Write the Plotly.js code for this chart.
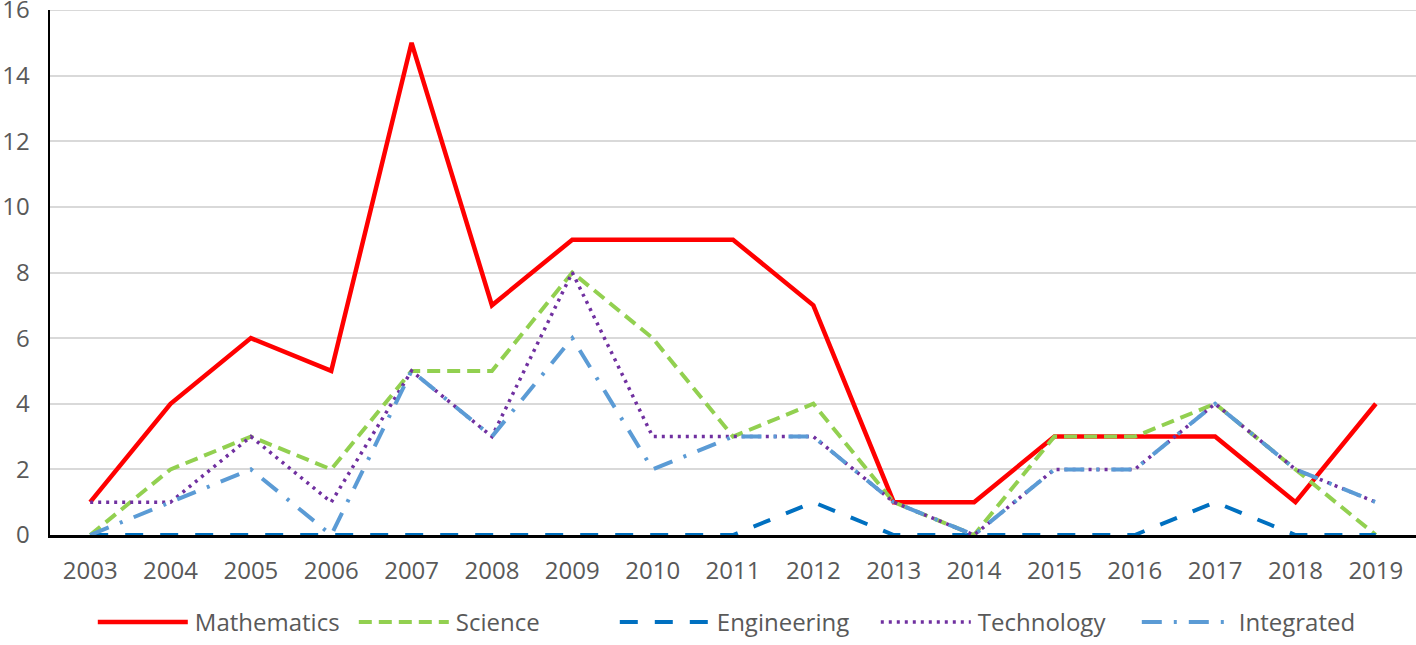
<!DOCTYPE html>
<html>
<head>
<meta charset="utf-8">
<script src="https://cdn.plot.ly/plotly-3.0.1.min.js"></script>
<style>html,body{margin:0;padding:0;background:#fff;}#chart{width:1416px;height:645px;}</style>
</head>
<body>
<div id="chart"></div>
<script>
const years = ["2003","2004","2005","2006","2007","2008","2009","2010","2011","2012","2013","2014","2015","2016","2017","2018","2019"];
const mathematics = [1,4,6,5,15,7,9,9,9,7,1,1,3,3,3,1,4];
const science     = [0,2,3,2,5,5,8,6,3,4,1,0,3,3,4,2,0];
const engineering = [0,0,0,0,0,0,0,0,0,1,0,0,0,0,1,0,0];
const technology  = [1,1,3,1,5,3,8,3,3,3,1,0,2,2,4,2,1];
const integrated  = [0,1,2,0,5,3,6,2,3,3,1,0,2,2,4,2,1];
const yTicks = [0,2,4,6,8,10,12,14,16];
const yMax = 16;

const traces = [
  {name:"Mathematics", y:mathematics, line:{color:"#ff0000", width:4.5, dash:"solid"}},
  {name:"Science", y:science, line:{color:"#92d050", width:4, dash:"13px,7px"}},
  {name:"Engineering", y:engineering, line:{color:"#0070c0", width:4, dash:"18px,17px"}},
  {name:"Technology", y:technology, line:{color:"#7030a0", width:3.5, dash:"3px,5px"}},
  {name:"Integrated", y:integrated, line:{color:"#5b9bd5", width:4, dash:"20px,12px,3px,12px"}}
].map(t => Object.assign({x:years, type:"scatter", mode:"lines", hoverinfo:"skip"}, t));

const layout = {
  width:1416, height:645,
  margin:{l:50, r:0, t:10, b:110},
  paper_bgcolor:"#ffffff", plot_bgcolor:"#ffffff",
  font:{family:"Open Sans, Liberation Sans, sans-serif", size:24, color:"#595959"},
  xaxis:{type:"category", range:[-0.5,16.5], tickvals:years, ticktext:years, showgrid:false, zeroline:false,
         showline:true, linecolor:"#000000", linewidth:2.5, ticks:"", ticklabelstandoff:13,
         tickfont:{size:24, color:"#595959"}, ticklabeloverflow:"allow", automargin:false},
  yaxis:{range:[0,yMax], tickvals:yTicks, ticktext:yTicks.map(String), showgrid:true,
         gridcolor:"#d9d9d9", gridwidth:2, zeroline:false, showline:true,
         linecolor:"#000000", linewidth:2.5, ticks:"", ticklabelstandoff:13,
         tickfont:{size:24, color:"#595959"}, ticklabeloverflow:"allow", automargin:false},
  shapes:[{type:"line", xref:"paper", x0:0, x1:1, yref:"y", y0:yMax, y1:yMax,
           line:{color:"#d9d9d9", width:2}, layer:"below"}],
  showlegend:true,
  legend:{orientation:"h", x:0.509, xanchor:"center", yref:"container", y:0, yanchor:"bottom",
          font:{size:24, color:"#595959"}, itemwidth:92, entrywidth:154, entrywidthmode:"pixels",
          traceorder:"normal"}
};

Plotly.newPlot("chart", traces, layout, {staticPlot:true, displayModeBar:false}).then(gd => {
  // lengthen the legend line samples to match the reference's long keys
  gd.querySelectorAll(".legend .legendlines path").forEach(p => p.setAttribute("d", "M5,0h90"));
});
</script>
</body>
</html>
